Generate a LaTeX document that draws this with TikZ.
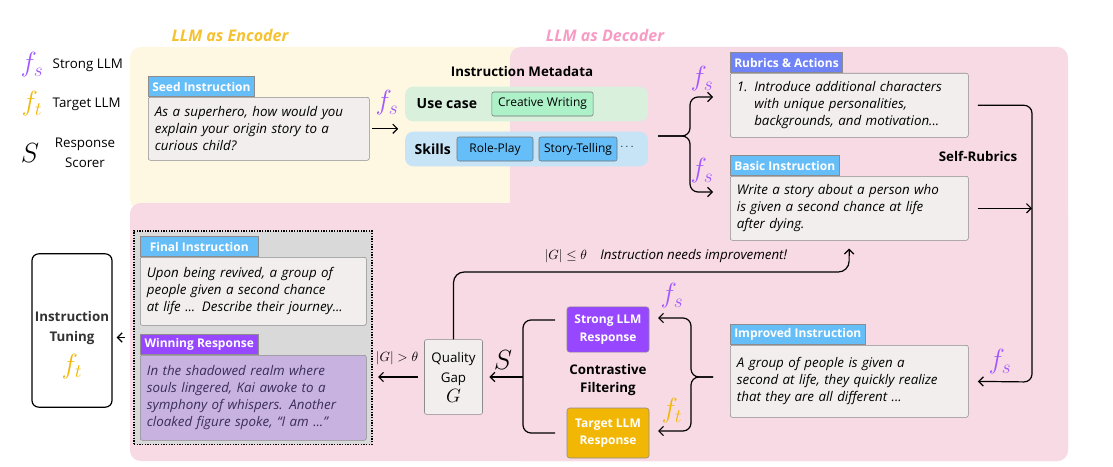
\documentclass[tikz,border=0pt]{standalone}
\usepackage{amsmath}
\usepackage{amssymb}
\usepackage{fontspec}
\setmainfont{Open Sans}
\usepackage{tikz}
\usetikzlibrary{arrows.meta}

\definecolor{encbg}{HTML}{FEF8E3}
\definecolor{decbg}{HTML}{F8DAE4}
\definecolor{enctitle}{HTML}{F6C12E}
\definecolor{dectitle}{HTML}{F79BC4}
\definecolor{strongc}{HTML}{A057FF}
\definecolor{targetc}{HTML}{F2B705}
\definecolor{tabblue}{HTML}{66BEF8}
\definecolor{tabviolet}{HTML}{6F83F7}
\definecolor{tabpurple}{HTML}{9747FF}
\definecolor{cardbg}{HTML}{F2EEEE}
\definecolor{usebg}{HTML}{D8F0DC}
\definecolor{usechip}{HTML}{ADF1C8}
\definecolor{skillbg}{HTML}{C7E3F6}
\definecolor{winbg}{HTML}{C8B2E0}
\definecolor{wintext}{HTML}{3A2D5C}
\definecolor{poolbg}{HTML}{D9D9D9}

\begin{document}
\begin{tikzpicture}[x=0.75pt, y=-0.75pt,
    card/.style={draw=black!45, fill=cardbg, rounded corners=1.5pt, anchor=north west,
        align=left, inner xsep=5pt, text width=#1,
        font=\itshape\fontsize{10}{12.75}\selectfont},
    tab/.style={draw=black!45, fill=#1, text=white, anchor=south west,
        minimum height=15pt, inner xsep=3pt, inner ysep=0pt,
        font=\bfseries\fontsize{9}{10}\selectfont},
    chip/.style={draw=black!55, fill=#1, rounded corners=1.5pt, minimum height=18pt,
        inner xsep=2pt, font=\fontsize{9}{10}\selectfont},
    row/.style={fill=#1, rounded corners=6pt, minimum width=182pt, minimum height=26pt},
    resp/.style={draw=black!45, fill=#1, text=white, rounded corners=2pt, align=center,
        minimum width=61.5pt, font=\bfseries\fontsize{9}{13}\selectfont},
    label/.style={font=\bfseries\fontsize{10}{13}\selectfont, align=center},
    model/.style={font=\huge},
    flow/.style={-{Straight Barb[length=3.5pt,width=7pt]}, line width=0.9pt, rounded corners=6pt}
]
\useasboundingbox (0,0) rectangle (1113,467);

% encoder / decoder regions
\fill[encbg, rounded corners=8pt] (130,47) rectangle (525,210);
\fill[decbg, rounded corners=8pt] (510,47) rectangle (1068,461);
\fill[decbg, rounded corners=8pt] (130,203) rectangle (1068,461);
\node[font=\bfseries\itshape\fontsize{12}{14}\selectfont, text=enctitle] (enctitle) at (230,36) {LLM as Encoder};
\node[font=\bfseries\itshape\fontsize{12}{14}\selectfont, text=dectitle] (dectitle) at (605,36) {LLM as Decoder};

% legend
\node[model, text=strongc] (keyfs) at (32,65) {$f_s$};
\node[anchor=west, font=\fontsize{10}{12}\selectfont] (keyfstext) at (48,65) {Strong LLM};
\node[model, text=targetc] (keyft) at (32,104) {$f_t$};
\node[anchor=west, font=\fontsize{10}{12}\selectfont] (keyfttext) at (48,104) {Target LLM};
\node[model] (keyscore) at (30,153) {$S$};
\node[align=center, font=\fontsize{10}{15}\selectfont] (keyscoretext) at (85,153) {Response\\Scorer};

% seed instruction
\node[card={155.75pt}, minimum height=47.25pt] (seed) at (148,97)
    {As a superhero, how would you\\explain your origin story to a\\curious child?};
\node[tab=tabblue, minimum width=79pt] (seedtab) at (seed.north west) {Seed Instruction};

% instruction metadata
\node[label] (metatitle) at (522,72) {Instruction Metadata};
\node[row=usebg] (usecase) at (526.5,104) {};
\node[row=skillbg] (skills) at (526.5,149) {};
\node[label, anchor=west, font=\bfseries\fontsize{10.5}{13}\selectfont] (usecaselbl) at (412,104) {Use case};
\node[chip=usechip, minimum width=76pt] (creative) at (542.5,104) {Creative Writing};
\node[label, anchor=west, font=\bfseries\fontsize{10.5}{13}\selectfont] (skillslbl) at (410,149) {Skills};
\node[chip=tabblue, minimum width=57pt] (roleplay) at (495,149) {Role-Play};
\node[chip=tabblue, minimum width=58.5pt] (storytelling) at (578,149) {Story-Telling};
\node[font=\bfseries\fontsize{8}{9}\selectfont] (more) at (628,147) {$\cdots$};

\draw[flow, shorten <=2pt, shorten >=5pt] (seed.east) -- (usecase.west |- seed.east);
\node[model, text=strongc] (seedfs) at (387,103) {$f_s$};

% self-rubrics
\node[card={168.5pt}, minimum height=48pt] (rubrics) at (730,73)
    {\makebox[1.3em][l]{1.}Introduce additional characters\\
     \hspace*{1.3em}with unique personalities,\\
     \hspace*{1.3em}backgrounds, and motivation...};
\node[tab=tabviolet, minimum width=84pt] (rubricstab) at (rubrics.north west) {Rubrics \& Actions};
\node[card={168.5pt}, minimum height=48pt] (basic) at (730,176)
    {Write a story about a person who\\is given a second chance at life\\after dying.};
\node[tab=tabblue, minimum width=80pt] (basictab) at (basic.north west) {Basic Instruction};
\node[label] (selfrubrics) at (978,156) {Self-Rubrics};

\coordinate (metaout) at (658,136);
\coordinate (rubricstip) at (713,97);
\coordinate (basictip) at (713,192);
\draw[flow] (metaout) -| (690,97) -- (rubricstip);
\draw[flow] (metaout) -| (690,192) -- (basictip);
\node[model, text=strongc] (rubricsfs) at (702,79) {$f_s$};
\node[model, text=strongc] (basicfs) at (702,171) {$f_s$};

% improved instruction
\node[card={168.5pt}, minimum height=54pt] (improved) at (730,345)
    {A group of people is given a\\second at life, they quickly realize\\that they are all different ...};
\node[tab=tabblue, minimum width=100pt] (improvedtab) at (improved.north west) {Improved Instruction};

\coordinate (rail) at (1032,0);
\draw[flow, shorten <=7pt, shorten >=7pt] (rubrics.east) -| (1032,382) -- (improved.east);
\draw[flow, shorten <=7pt] (basic.east) -- (basic.east -| rail);
\node[model, text=strongc] (improvedfs) at (1000,362) {$f_s$};

% contrastive filtering
\node[resp=tabpurple, minimum height=34pt] (strong) at (608,329.5) {Strong LLM\\Response};
\node[resp=targetc, minimum height=37.5pt] (target) at (608,433) {Target LLM\\Response};
\node[label] (contrastive) at (608,380) {Contrastive\\Filtering};

\coordinate (splitin) at (713,377);
\coordinate (strongtip) at (658,318);
\coordinate (targettip) at (658,431);
\draw[flow] (splitin) -| (691,318) -- (strongtip);
\draw[flow] (splitin) -| (691,431) -- (targettip);
\node[model, text=strongc] (strongfs) at (672,296) {$f_s$};
\node[model, text=targetc] (targetft) at (672,411) {$f_t$};

\node[draw=black!45, fill=cardbg, rounded corners=1.5pt, minimum width=43.5pt,
    minimum height=56pt, align=center, font=\fontsize{10}{15}\selectfont] (gap) at (453.5,377)
    {Quality\\Gap\\{\Large$G$}};

\coordinate (strongout) at (555,320);
\coordinate (targetout) at (555,433);
\coordinate (merge) at (523,377);
\draw[line width=0.9pt, rounded corners=6pt] (strongout) -- (523,320) -- (523,433) -- (targetout);
\draw[flow, shorten >=5pt] (merge) -- (gap.east);
\node[model] (scorer) at (503,360) {$S$};

% loop back
\coordinate (looptop) at (849,272);
\draw[flow, rounded corners=8pt, shorten >=6pt] (gap.north) |- (looptop) -- (basic.south);
\node[anchor=west, font=\fontsize{10}{12}\selectfont] (loopnote) at (540,256)
    {$|G|\le\theta$\quad\textit{Instruction needs improvement!}};

% final pool
\node[draw, densely dotted, line width=1pt, fill=poolbg, minimum width=178.5pt,
    minimum height=160pt] (pool) at (253,337.5) {};
\node[card={159.5pt}, minimum height=51pt] (final) at (140,257)
    {Upon being revived, a group of\\people given a second chance\\at life ... Describe their journey...};
\node[tab=tabblue, minimum width=88.5pt] (finaltab) at (final.north west) {Final Instruction};
\node[card={159.5pt}, minimum height=63.75pt, fill=winbg, text=wintext] (winning) at (140,355)
    {In the shadowed realm where\\souls lingered, Kai awoke to a\\symphony of whispers. Another\\cloaked figure spoke, ``I am ...''};
\node[tab=tabpurple, minimum width=88.5pt] (winningtab) at (winning.north west) {Winning Response};

\draw[flow, shorten <=5pt, shorten >=4pt] (gap.west) -- (pool.east |- gap.west);
\node[font=\fontsize{10}{12}\selectfont] (gapnote) at (397,358) {$|G|>\theta$};

% instruction tuning
\node[draw, rounded corners=5pt, line width=0.9pt, fill=white, minimum width=60pt,
    minimum height=115pt] (tuning) at (72,330.5) {};
\node[align=center, text=black!80, font=\bfseries\fontsize{10}{15}\selectfont] (tuninglbl) at (72,345)
    {Instruction\\Tuning\\[6pt]{\color{targetc}\huge$f_t$}};
\draw[flow, shorten <=6pt, shorten >=3pt] (pool.west) -- (tuning.east |- pool.west);
\end{tikzpicture}
\end{document}
